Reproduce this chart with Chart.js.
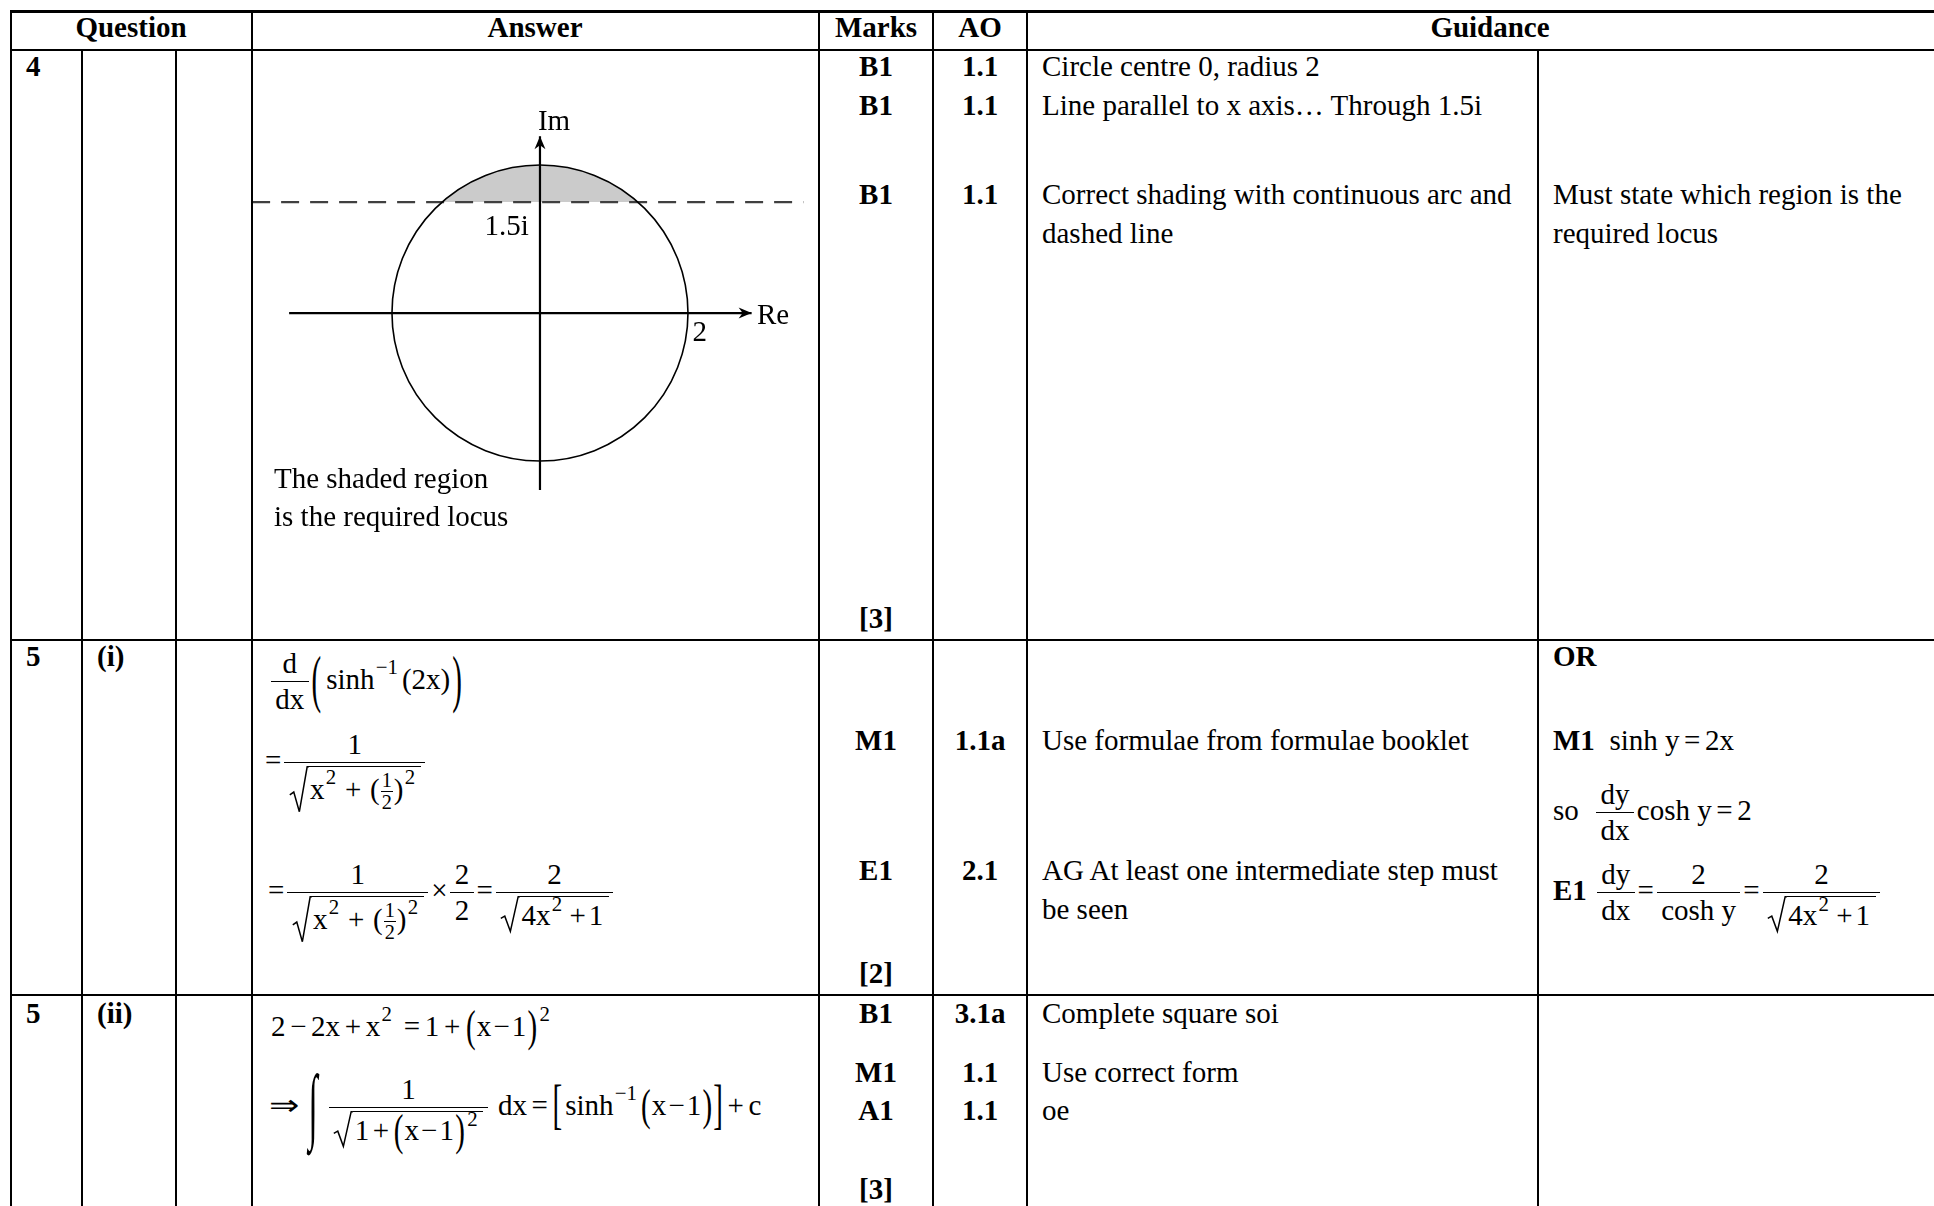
<!DOCTYPE html>
<html>
<head>
<meta charset="utf-8">
<title>Mark scheme – questions 4 and 5</title>
<script src="https://cdn.jsdelivr.net/npm/chart.js@4.4.1/dist/chart.umd.min.js"></script>
<style>
  html, body { margin: 0; padding: 0; background: #fff; }
  body { position: relative; width: 1934px; height: 1206px; overflow: hidden;
         font-family: "Liberation Serif", "Times New Roman", serif; font-size: 29px; color: #000; }
  .h { position: absolute; left: 10px; right: 0; height: 2px; background: #000; }
  .v { position: absolute; width: 2px; top: 10px; bottom: 0; background: #000; }
  .t { position: absolute; white-space: nowrap; line-height: 1.15; transform: translateY(-50%); }
  .t.c { transform: translate(-50%, -50%); }
  .m { position: absolute; white-space: nowrap; line-height: 1.15; }
  b { font-weight: bold; }
  sup { font-size: 0.72em; line-height: 0; vertical-align: 0.7em; margin-left: 0.06em; }
  .op { padding: 0 0.16em; }
  .mo { padding: 0 0.07em; }
  .frac { display: inline-flex; flex-direction: column; align-items: center; vertical-align: 0.55em; margin: 0 0.1em; }
  .frac > span { display: block; line-height: 1; padding: 0 0.15em; white-space: nowrap; }
  .frac > span:first-child { padding-bottom: 0.12em; }
  .frac > span + span { border-top: 1.5px solid #000; padding-top: 0.1em; }
  .frac.sf { font-size: 0.7em; vertical-align: 0.58em; margin: 0 0.05em; }
  .frac.sf > span { padding: 0 0.05em; }
  .frac.sf > span:first-child { padding-bottom: 0.02em; }
  .frac.sf > span + span { border-top-width: 1px; padding-top: 0.02em; }
  .sq { display: inline-block; position: relative; padding-left: 0.68em; }
  .sq svg { position: absolute; left: 0; top: 0; width: 0.66em; height: 100%; overflow: visible; }
  .sq > .rc { display: inline-block; border-top: 1.5px solid #000; padding: 0.1em 0.2em 0 0.06em; line-height: 1.1; }
  .sq .op { padding: 0 0.3em; }
  .sq .tight .op { padding: 0 0.12em; }
  .bp { display: inline-block; transform: scaleY(2.2); }
  .mp { display: inline-block; transform: scaleY(1.5); margin: 0 0.04em; }
  .bb { display: inline-block; transform: scaleY(1.9); }
  .int { display: inline-block; transform: scale(1.15, 2.9); margin: 0 0.3em 0 0.4em; }
  .arr { display: inline-block; transform: scaleX(1.25); margin: 0 0.06em 0 0.04em; }
  #diagram { position: absolute; left: 253px; top: 51px; }
</style>
</head>
<body>
<!-- table rules -->
<div class="h" style="top:10px;height:3px"></div>
<div class="h" style="top:49px"></div>
<div class="h" style="top:639px"></div>
<div class="h" style="top:994px"></div>
<div class="v" style="left:10px"></div>
<div class="v" style="left:81px;top:49px"></div>
<div class="v" style="left:175px;top:49px"></div>
<div class="v" style="left:251px"></div>
<div class="v" style="left:818px"></div>
<div class="v" style="left:932px"></div>
<div class="v" style="left:1026px"></div>
<div class="v" style="left:1537px;top:49px"></div>

<!-- header -->
<div class="t c" style="left:131px;top:28px"><b>Question</b></div>
<div class="t c" style="left:535px;top:28px"><b>Answer</b></div>
<div class="t c" style="left:876px;top:28px"><b>Marks</b></div>
<div class="t c" style="left:980px;top:28px"><b>AO</b></div>
<div class="t c" style="left:1490px;top:28px"><b>Guidance</b></div>

<!-- question 4 -->
<div class="t" style="left:26px;top:67px"><b>4</b></div>
<canvas id="diagram" width="565" height="588"></canvas>
<div class="t" style="left:274px;top:479px">The shaded region</div>
<div class="t" style="left:274px;top:517px">is the required locus</div>
<div class="t c" style="left:876px;top:67px"><b>B1</b></div>
<div class="t c" style="left:876px;top:106px"><b>B1</b></div>
<div class="t c" style="left:876px;top:195px"><b>B1</b></div>
<div class="t c" style="left:876px;top:619px"><b>[3]</b></div>
<div class="t c" style="left:980px;top:67px"><b>1.1</b></div>
<div class="t c" style="left:980px;top:106px"><b>1.1</b></div>
<div class="t c" style="left:980px;top:195px"><b>1.1</b></div>
<div class="t" style="left:1042px;top:67px">Circle centre 0, radius 2</div>
<div class="t" style="left:1042px;top:106px">Line parallel to x axis… Through 1.5i</div>
<div class="t" style="left:1042px;top:195px">Correct shading with continuous arc and</div>
<div class="t" style="left:1042px;top:234px">dashed line</div>
<div class="t" style="left:1553px;top:195px">Must state which region is the</div>
<div class="t" style="left:1553px;top:234px">required locus</div>

<!-- question 5 (i) -->
<div class="t" style="left:26px;top:657px"><b>5</b></div>
<div class="t" style="left:97px;top:657px"><b>(i)</b></div>
<div class="m" style="left:268px;top:649px"><span class="frac"><span>d</span><span>dx</span></span><span class="bp">(</span><span style="margin-left:5px">sinh</span><sup>−1</sup><span style="margin-left:4px">(2x)</span><span class="bp" style="margin-left:2px">)</span></div>
<div class="m" style="left:265px;top:730px">=<span class="frac"><span>1</span><span><span class="sq"><svg viewBox="0 0 12 40" preserveAspectRatio="none"><path d="M0.5 25 L3 22.5 L6.5 39.5 L11.4 0.75 L12.5 0.75" fill="none" stroke="#000" stroke-width="1.5" vector-effect="non-scaling-stroke"/></svg><span class="rc">x<sup>2</sup><span class="op">+</span>(<span class="frac sf"><span>1</span><span>2</span></span>)<sup>2</sup></span></span></span></span></div>
<div class="m" style="left:268px;top:860px">=<span class="frac"><span>1</span><span><span class="sq"><svg viewBox="0 0 12 40" preserveAspectRatio="none"><path d="M0.5 25 L3 22.5 L6.5 39.5 L11.4 0.75 L12.5 0.75" fill="none" stroke="#000" stroke-width="1.5" vector-effect="non-scaling-stroke"/></svg><span class="rc">x<sup>2</sup><span class="op">+</span>(<span class="frac sf"><span>1</span><span>2</span></span>)<sup>2</sup></span></span></span></span>×<span class="frac"><span>2</span><span>2</span></span>=<span class="frac"><span>2</span><span><span class="sq"><svg viewBox="0 0 12 40" preserveAspectRatio="none"><path d="M0.5 25 L3 22.5 L6.5 39.5 L11.4 0.75 L12.5 0.75" fill="none" stroke="#000" stroke-width="1.5" vector-effect="non-scaling-stroke"/></svg><span class="rc">4x<sup>2</sup><span class="op" style="padding:0 0.1em 0 0.25em">+</span>1</span></span></span></span></div>
<div class="t c" style="left:876px;top:741px"><b>M1</b></div>
<div class="t c" style="left:876px;top:871px"><b>E1</b></div>
<div class="t c" style="left:876px;top:974px"><b>[2]</b></div>
<div class="t c" style="left:980px;top:741px"><b>1.1a</b></div>
<div class="t c" style="left:980px;top:871px"><b>2.1</b></div>
<div class="t" style="left:1042px;top:741px">Use formulae from formulae booklet</div>
<div class="t" style="left:1042px;top:871px">AG At least one intermediate step must</div>
<div class="t" style="left:1042px;top:910px">be seen</div>
<div class="t" style="left:1553px;top:657px"><b>OR</b></div>
<div class="t" style="left:1553px;top:741px"><b>M1</b>&nbsp; sinh y<span class="op">=</span>2x</div>
<div class="m" style="left:1553px;top:780px">so &nbsp;<span class="frac"><span>dy</span><span>dx</span></span>cosh y<span class="op">=</span>2</div>
<div class="m" style="left:1553px;top:860px"><b>E1</b>&nbsp;<span class="frac"><span>dy</span><span>dx</span></span>=<span class="frac"><span>2</span><span>cosh y</span></span>=<span class="frac"><span>2</span><span><span class="sq"><svg viewBox="0 0 12 40" preserveAspectRatio="none"><path d="M0.5 25 L3 22.5 L6.5 39.5 L11.4 0.75 L12.5 0.75" fill="none" stroke="#000" stroke-width="1.5" vector-effect="non-scaling-stroke"/></svg><span class="rc">4x<sup>2</sup><span class="op" style="padding:0 0.1em 0 0.25em">+</span>1</span></span></span></span></div>

<!-- question 5 (ii) -->
<div class="t" style="left:26px;top:1014px"><b>5</b></div>
<div class="t" style="left:97px;top:1014px"><b>(ii)</b></div>
<div class="t" style="left:271px;top:1027px">2<span class="op">−</span>2x<span class="op">+</span>x<sup>2</sup> <span class="op">=</span>1<span class="op">+</span><span class="mp">(</span>x<span class="mo">−</span>1<span class="mp">)</span><sup>2</sup></div>
<div class="m" style="left:271px;top:1075px"><span class="arr">⇒</span><span class="int">∫</span><span class="frac"><span>1</span><span><span class="sq"><svg viewBox="0 0 12 40" preserveAspectRatio="none"><path d="M0.5 25 L3 22.5 L6.5 39.5 L11.4 0.75 L12.5 0.75" fill="none" stroke="#000" stroke-width="1.5" vector-effect="non-scaling-stroke"/></svg><span class="rc tight">1<span class="op">+</span><span class="mp">(</span>x<span class="mo">−</span>1<span class="mp">)</span><sup>2</sup></span></span></span></span> dx<span class="op">=</span><span class="bb">[</span><span style="margin-left:3px">sinh</span><sup>−1</sup><span class="mp" style="margin-left:4px">(</span>x<span class="mo">−</span>1<span class="mp">)</span><span class="bb">]</span><span class="op">+</span>c</div>
<div class="t c" style="left:876px;top:1014px"><b>B1</b></div>
<div class="t c" style="left:876px;top:1073px"><b>M1</b></div>
<div class="t c" style="left:876px;top:1111px"><b>A1</b></div>
<div class="t c" style="left:876px;top:1190px"><b>[3]</b></div>
<div class="t c" style="left:980px;top:1014px"><b>3.1a</b></div>
<div class="t c" style="left:980px;top:1073px"><b>1.1</b></div>
<div class="t c" style="left:980px;top:1111px"><b>1.1</b></div>
<div class="t" style="left:1042px;top:1014px">Complete square soi</div>
<div class="t" style="left:1042px;top:1073px">Use correct form</div>
<div class="t" style="left:1042px;top:1111px">oe</div>

<script>
// Argand diagram for question 4: |z| <= 2 together with Im(z) > 1.5
const circleCentre = [0, 0];
const circleRadius = 2;
const lineIm = 1.5;                 // dashed line Im(z) = 1.5
const lineRe = [-3.89, 3.56];       // extent of the dashed line
const reAxis = [-3.39, 2.86];       // real axis, arrow at the right end
const imAxis = [-2.39, 2.39];       // imaginary axis, arrow at the top
const labels = ['Im', 'Re', '1.5i', '2'];
const labelAt = [[0.19, 2.58], [3.15, -0.04], [-0.45, 1.16], [2.16, -0.27]];

const diagramPlugin = {
  id: 'argand',
  beforeDatasetsDraw(chart) {
    const {ctx, chartArea, scales: {x, y}} = chart;
    const cx = x.getPixelForValue(circleCentre[0]);
    const cy = y.getPixelForValue(circleCentre[1]);
    const r = x.getPixelForValue(circleCentre[0] + circleRadius) - cx;
    const ly = y.getPixelForValue(lineIm);
    // shade the part of the disc above the line
    ctx.save();
    ctx.beginPath();
    ctx.rect(chartArea.left, chartArea.top, chartArea.width, ly - chartArea.top);
    ctx.clip();
    ctx.beginPath();
    ctx.arc(cx, cy, r, 0, Math.PI * 2);
    ctx.fillStyle = '#cbcbcb';
    ctx.fill();
    ctx.restore();
  },
  afterDatasetsDraw(chart) {
    const {ctx, scales: {x, y}} = chart;
    const cx = x.getPixelForValue(circleCentre[0]);
    const cy = y.getPixelForValue(circleCentre[1]);
    const r = x.getPixelForValue(circleCentre[0] + circleRadius) - cx;
    ctx.save();
    ctx.beginPath();
    ctx.arc(cx, cy, r, 0, Math.PI * 2);
    ctx.strokeStyle = '#000';
    ctx.lineWidth = 1.6;
    ctx.stroke();

    const arrow = (px, py, ang) => {
      ctx.save();
      ctx.translate(px, py);
      ctx.rotate(ang);
      ctx.beginPath();
      ctx.moveTo(0, 0);
      ctx.lineTo(-13, -5.5);
      ctx.lineTo(-9, 0);
      ctx.lineTo(-13, 5.5);
      ctx.closePath();
      ctx.fillStyle = '#000';
      ctx.fill();
      ctx.restore();
    };
    arrow(x.getPixelForValue(reAxis[1]), y.getPixelForValue(0), 0);
    arrow(x.getPixelForValue(0), y.getPixelForValue(imAxis[1]), -Math.PI / 2);

    ctx.fillStyle = '#000';
    ctx.font = '29px "Liberation Serif", "Times New Roman", serif';
    ctx.textAlign = 'center';
    ctx.textBaseline = 'middle';
    labels.forEach((txt, i) => {
      ctx.fillText(txt, x.getPixelForValue(labelAt[i][0]), y.getPixelForValue(labelAt[i][1]));
    });
    ctx.restore();
  }
};

const ctx = document.getElementById('diagram').getContext('2d');
const diagram = new Chart(ctx, {
  type: 'scatter',
  data: {
    datasets: [
      {
        data: [{x: lineRe[0], y: lineIm}, {x: lineRe[1], y: lineIm}],
        showLine: true,
        borderColor: '#404040',
        borderWidth: 2.2,
        borderDash: [18, 11],
        pointRadius: 0
      },
      {
        data: [{x: reAxis[0], y: 0}, {x: reAxis[1], y: 0}],
        showLine: true,
        borderColor: '#000',
        borderWidth: 2.2,
        pointRadius: 0
      },
      {
        data: [{x: 0, y: imAxis[0]}, {x: 0, y: imAxis[1]}],
        showLine: true,
        borderColor: '#000',
        borderWidth: 2.2,
        pointRadius: 0
      }
    ]
  },
  options: {
    responsive: false,
    animation: false,
    events: [],
    layout: {padding: 0},
    plugins: {legend: {display: false}, tooltip: {enabled: false}},
    scales: {
      x: {type: 'linear', display: false, min: -3.878, max: 3.757},
      y: {type: 'linear', display: false, min: -4.405, max: 3.541}
    }
  },
  plugins: [diagramPlugin]
});
</script>
</body>
</html>
